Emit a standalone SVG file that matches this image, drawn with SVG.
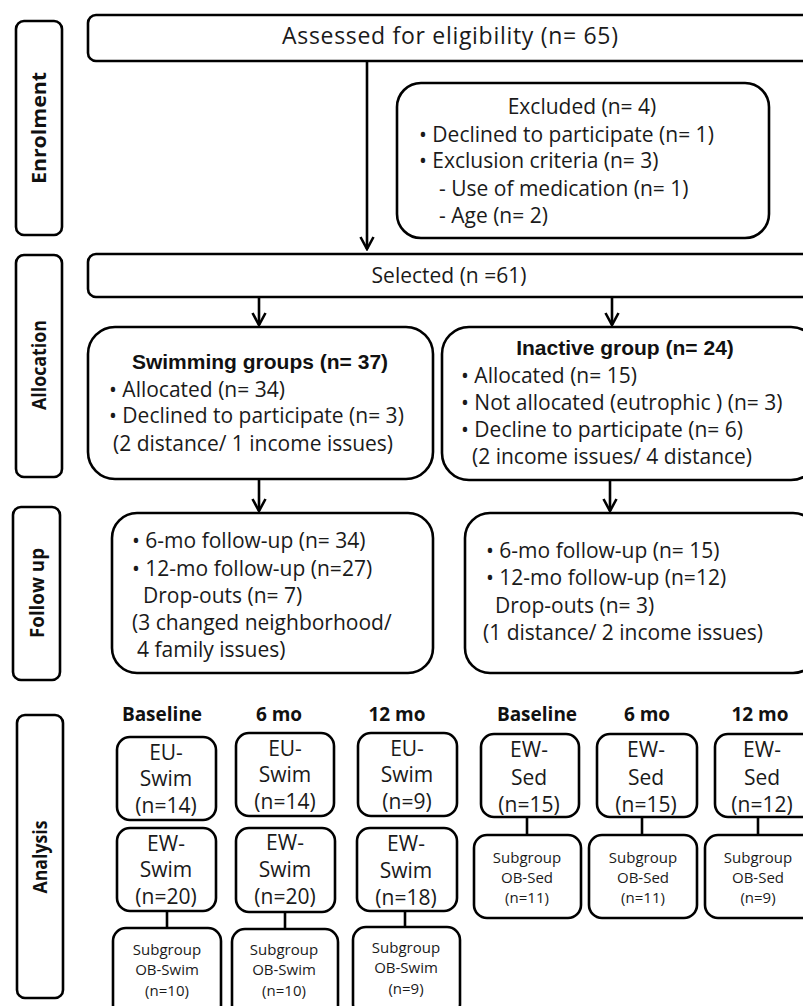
<svg xmlns="http://www.w3.org/2000/svg" width="803" height="1006" viewBox="0 0 803 1006" xml:space="preserve">
<style>
rect{fill:#fff;stroke:#000;stroke-width:2.6}
.t{font-family:"Open Sans","DejaVu Sans",sans-serif;font-size:21px;fill:#1a1a1a}
.c{text-anchor:middle}
.b{font-family:"Liberation Sans",Arial,sans-serif;font-weight:bold;font-size:21px;fill:#111;text-anchor:middle}
.h{font-family:"Open Sans","DejaVu Sans",sans-serif;font-weight:bold;font-size:19px;fill:#111;text-anchor:middle}
.s{font-family:"Open Sans","DejaVu Sans",sans-serif;font-size:15px;fill:#1a1a1a;text-anchor:middle}
.side{font-family:"Open Sans","DejaVu Sans",sans-serif;font-weight:bold;font-size:19px;fill:#111;text-anchor:middle;dominant-baseline:central}
.ln{stroke:#000;stroke-width:2.6;fill:none}
</style>
<defs>
<marker id="ah" viewBox="0 0 16 16" refX="14" refY="8" markerWidth="16" markerHeight="16" markerUnits="userSpaceOnUse" orient="auto">
<path d="M2,1.5 L14,8 L2,14.5" fill="none" stroke="#000" stroke-width="2.6"/>
</marker>
</defs>

<g id="side-enrolment"><rect x="16" y="21" width="46" height="214" rx="8"/><text class="side" transform="translate(39,128) rotate(-90)" textLength="112" lengthAdjust="spacingAndGlyphs">Enrolment</text></g>
<g id="side-allocation"><rect x="16" y="255" width="46" height="222" rx="8"/><text class="side" transform="translate(39,365) rotate(-90)" textLength="90" lengthAdjust="spacingAndGlyphs">Allocation</text></g>
<g id="side-followup"><rect x="13" y="507" width="47" height="173" rx="8"/><text class="side" transform="translate(37,593) rotate(-90)" textLength="90" lengthAdjust="spacingAndGlyphs">Follow up</text></g>
<g id="side-analysis"><rect x="17" y="715" width="46" height="283" rx="8"/><text class="side" transform="translate(40,857) rotate(-90)" textLength="73" lengthAdjust="spacingAndGlyphs">Analysis</text></g>

<g id="assessed"><rect x="88" y="15" width="730" height="46" rx="8"/><text class="t" x="282" y="44" style="font-size:23px" textLength="336" lengthAdjust="spacing">Assessed for eligibility (n=  65)</text></g>

<g id="excluded"><rect x="397" y="83" width="372" height="155" rx="24"/>
<text class="t c" x="582" y="114">Excluded (n= 4)</text>
<text class="t" x="419" y="142">• Declined to participate (n= 1)</text>
<text class="t" x="419" y="168">• Exclusion criteria (n= 3)</text>
<text class="t" x="439" y="196">- Use of medication (n= 1)</text>
<text class="t" x="439" y="223">- Age  (n= 2)</text>
</g>

<g id="selected"><rect x="88" y="254" width="730" height="43" rx="8"/><text class="t c" x="449" y="283">Selected (n =61)</text></g>

<g id="swimming"><rect x="88" y="327" width="345" height="152" rx="27"/>
<text class="b" x="260" y="369">Swimming groups  (n= 37)</text>
<text class="t" x="109" y="397">• Allocated  (n= 34)</text>
<text class="t" x="109" y="423">• Declined to participate (n= 3)</text>
<text class="t" x="113" y="451">(2 distance/ 1 income issues)</text>
</g>

<g id="inactive"><rect x="442" y="327" width="376" height="153" rx="27"/>
<text class="b" x="625" y="355">Inactive group (n= 24)</text>
<text class="t" x="461" y="383">• Allocated  (n= 15)</text>
<text class="t" x="461" y="410">• Not allocated (eutrophic ) (n= 3)</text>
<text class="t" x="461" y="437">• Decline to participate (n= 6)</text>
<text class="t" x="472" y="464">(2 income issues/ 4 distance)</text>
</g>

<g id="followup-swim"><rect x="112" y="513" width="321" height="160" rx="25"/>
<text class="t" x="132" y="548">• 6-mo follow-up (n= 34)</text>
<text class="t" x="132" y="576">• 12-mo follow-up (n=27)</text>
<text class="t" x="143" y="603">Drop-outs (n= 7)</text>
<text class="t" x="132" y="630">(3 changed neighborhood/</text>
<text class="t" x="137" y="657">4 family issues)</text>
</g>

<g id="followup-inactive"><rect x="465" y="513" width="353" height="160" rx="25"/>
<text class="t" x="486" y="558">• 6-mo follow-up (n= 15)</text>
<text class="t" x="486" y="585">• 12-mo follow-up (n=12)</text>
<text class="t" x="495" y="613">Drop-outs (n= 3)</text>
<text class="t" x="483" y="640">(1 distance/ 2 income issues)</text>
</g>

<g id="headers">
<text class="h" x="162" y="721">Baseline</text>
<text class="h" x="279" y="721">6 mo</text>
<text class="h" x="397" y="721">12 mo</text>
<text class="h" x="537" y="721">Baseline</text>
<text class="h" x="647" y="721">6 mo</text>
<text class="h" x="760" y="721">12 mo</text>
</g>

<g id="eu-swim-base"><rect x="117" y="737" width="99" height="83" rx="13"/>
<text class="t c" x="166" y="760">EU-</text><text class="t c" x="166" y="786">Swim</text><text class="t c" x="166" y="813">(n=14)</text></g>
<g id="eu-swim-6"><rect x="236" y="733" width="98" height="83" rx="13"/>
<text class="t c" x="285" y="756">EU-</text><text class="t c" x="285" y="782">Swim</text><text class="t c" x="285" y="809">(n=14)</text></g>
<g id="eu-swim-12"><rect x="358" y="733" width="99" height="83" rx="13"/>
<text class="t c" x="407" y="756">EU-</text><text class="t c" x="407" y="782">Swim</text><text class="t c" x="407" y="809">(n=9)</text></g>

<g id="ew-swim-base"><rect x="117" y="828" width="99" height="83" rx="13"/>
<text class="t c" x="166" y="851">EW-</text><text class="t c" x="166" y="877">Swim</text><text class="t c" x="166" y="904">(n=20)</text></g>
<g id="ew-swim-6"><rect x="236" y="828" width="99" height="84" rx="13"/>
<text class="t c" x="285" y="850">EW-</text><text class="t c" x="285" y="877">Swim</text><text class="t c" x="285" y="904">(n=20)</text></g>
<g id="ew-swim-12"><rect x="357" y="828" width="100" height="83" rx="13"/>
<text class="t c" x="406" y="851">EW-</text><text class="t c" x="406" y="878">Swim</text><text class="t c" x="406" y="905">(n=18)</text></g>

<g id="ob-swim-base"><rect x="113" y="928" width="108" height="90" rx="13"/>
<text class="s" x="167" y="955">Subgroup</text><text class="s" x="167" y="975">OB-Swim</text><text class="s" x="167" y="996">(n=10)</text></g>
<g id="ob-swim-6"><rect x="232" y="929" width="106" height="90" rx="13"/>
<text class="s" x="284" y="955">Subgroup</text><text class="s" x="284" y="975">OB-Swim</text><text class="s" x="284" y="996">(n=10)</text></g>
<g id="ob-swim-12"><rect x="353" y="927" width="107" height="90" rx="13"/>
<text class="s" x="406" y="953">Subgroup</text><text class="s" x="406" y="973">OB-Swim</text><text class="s" x="406" y="994">(n=9)</text></g>

<g id="ew-sed-base"><rect x="481" y="734" width="98" height="83" rx="13"/>
<text class="t c" x="529" y="757">EW-</text><text class="t c" x="529" y="785">Sed</text><text class="t c" x="529" y="812">(n=15)</text></g>
<g id="ew-sed-6"><rect x="597" y="734" width="100" height="83" rx="13"/>
<text class="t c" x="646" y="757">EW-</text><text class="t c" x="646" y="785">Sed</text><text class="t c" x="646" y="812">(n=15)</text></g>
<g id="ew-sed-12"><rect x="715" y="734" width="100" height="83" rx="13"/>
<text class="t c" x="762" y="757">EW-</text><text class="t c" x="762" y="785">Sed</text><text class="t c" x="762" y="812">(n=12)</text></g>

<g id="ob-sed-base"><rect x="474" y="835" width="107" height="83" rx="13"/>
<text class="s" x="527" y="863">Subgroup</text><text class="s" x="527" y="883">OB-Sed</text><text class="s" x="527" y="903">(n=11)</text></g>
<g id="ob-sed-6"><rect x="589" y="835" width="108" height="83" rx="13"/>
<text class="s" x="643" y="863">Subgroup</text><text class="s" x="643" y="883">OB-Sed</text><text class="s" x="643" y="903">(n=11)</text></g>
<g id="ob-sed-12"><rect x="705" y="835" width="110" height="83" rx="13"/>
<text class="s" x="758" y="863">Subgroup</text><text class="s" x="758" y="883">OB-Sed</text><text class="s" x="758" y="903">(n=9)</text></g>

<g id="connectors">
<line class="ln" x1="367" y1="61" x2="367" y2="249" marker-end="url(#ah)"/>
<line class="ln" x1="259" y1="297" x2="259" y2="325" marker-end="url(#ah)"/>
<line class="ln" x1="612" y1="297" x2="612" y2="325" marker-end="url(#ah)"/>
<line class="ln" x1="259" y1="479" x2="259" y2="511" marker-end="url(#ah)"/>
<line class="ln" x1="610" y1="480" x2="610" y2="511" marker-end="url(#ah)"/>
<line class="ln" x1="167" y1="911" x2="167" y2="928"/>
<line class="ln" x1="285" y1="912" x2="285" y2="929"/>
<line class="ln" x1="405" y1="911" x2="405" y2="927"/>
<line class="ln" x1="527" y1="817" x2="527" y2="835"/>
<line class="ln" x1="642" y1="817" x2="642" y2="835"/>
<line class="ln" x1="758" y1="817" x2="758" y2="835"/>
</g>
</svg>
